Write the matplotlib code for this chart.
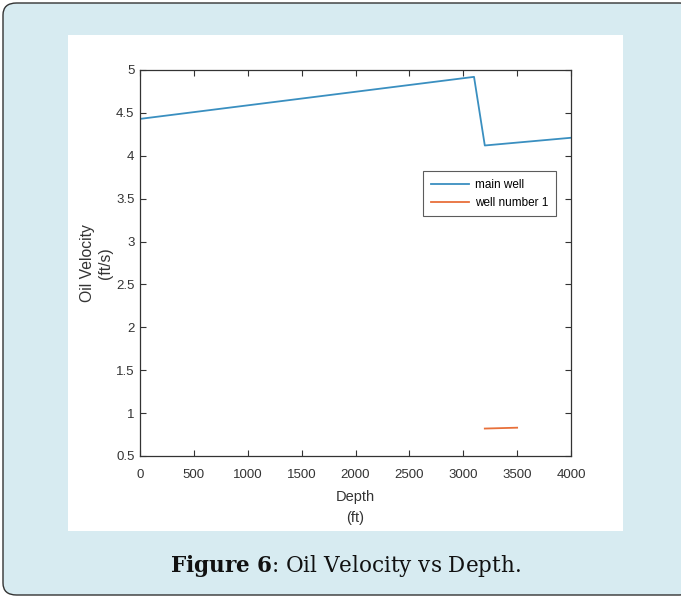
import matplotlib.pyplot as plt
from matplotlib.patches import FancyBboxPatch, Rectangle

# Oil velocity (ft/s) against depth (ft)
main_depth = [0, 3100, 3200, 4000]
main_velocity = [4.43, 4.92, 4.12, 4.21]
well1_depth = [3200, 3500]
well1_velocity = [0.82, 0.83]

x_ticks = [0, 500, 1000, 1500, 2000, 2500, 3000, 3500, 4000]
y_ticks = [0.5, 1, 1.5, 2, 2.5, 3, 3.5, 4, 4.5, 5]

plt.rcParams['mathtext.fontset'] = 'custom'
plt.rcParams['mathtext.rm'] = 'DejaVu Serif'
plt.rcParams['mathtext.bf'] = 'DejaVu Serif:bold'

W, H = 681, 598
fig = plt.figure(figsize=(W / 100, H / 100), dpi=100)
fig.patch.set_facecolor('white')

# light blue card with rounded corners and a white panel inside
card = FancyBboxPatch((3 / W, 3 / H), 690 / W, 592 / H,
                      boxstyle='round,pad=0,rounding_size=0.02',
                      transform=fig.transFigure, facecolor='#d7ebf1',
                      edgecolor='#333333', linewidth=1.0, zorder=-2)
fig.patches.append(card)
panel = Rectangle((68 / W, 1 - 531 / H), 555 / W, 496 / H,
                  transform=fig.transFigure, facecolor='white',
                  edgecolor='none', zorder=-1)
fig.patches.append(panel)

ax = fig.add_axes([140 / W, 1 - 456 / H, 431 / W, 386 / H])
ax.plot(main_depth, main_velocity, color='#3a8fc0', lw=1.3, label='main well')
ax.plot(well1_depth, well1_velocity, color='#e8703a', lw=1.3, label='well number 1')

ax.set_xlim(0, 4000)
ax.set_ylim(0.5, 5)
ax.set_xticks(x_ticks)
ax.set_yticks(y_ticks)
ax.set_yticklabels(['0.5', '1', '1.5', '2', '2.5', '3', '3.5', '4', '4.5', '5'])

font = 'Liberation Sans'
for lab in ax.get_xticklabels() + ax.get_yticklabels():
    lab.set_fontfamily(font)
    lab.set_fontsize(9.5)
    lab.set_color('#333333')
ax.tick_params(direction='in', top=True, right=True, length=4,
               width=0.8, color='#333333', pad=4)
ax.tick_params(axis='x', pad=9)
for s in ax.spines.values():
    s.set_color('#333333')
    s.set_linewidth(0.9)

ax.set_xlabel('Depth\n(ft)', family=font, fontsize=10.5, color='#333333',
              linespacing=1.65, labelpad=7)
ax.set_ylabel('Oil Velocity\n(ft/s)', family=font, fontsize=11.3,
              color='#333333', linespacing=1.25, labelpad=2)

leg = ax.legend(loc='upper left', bbox_to_anchor=(0.657, 0.738),
                prop={'family': font, 'size': 8.5}, frameon=True,
                fancybox=False, borderpad=0.65, handlelength=3.2,
                handletextpad=0.5, labelspacing=0.5, borderaxespad=0)
leg.get_frame().set_edgecolor('#333333')
leg.get_frame().set_linewidth(0.8)

fig.text(0.508, 1 - 566 / H, r'$\mathbf{Figure\ 6}$' + ': Oil Velocity vs Depth.',
         ha='center', va='center', family='DejaVu Serif', fontsize=15.5,
         color='#111111')

fig.savefig('out.png', dpi=100)
